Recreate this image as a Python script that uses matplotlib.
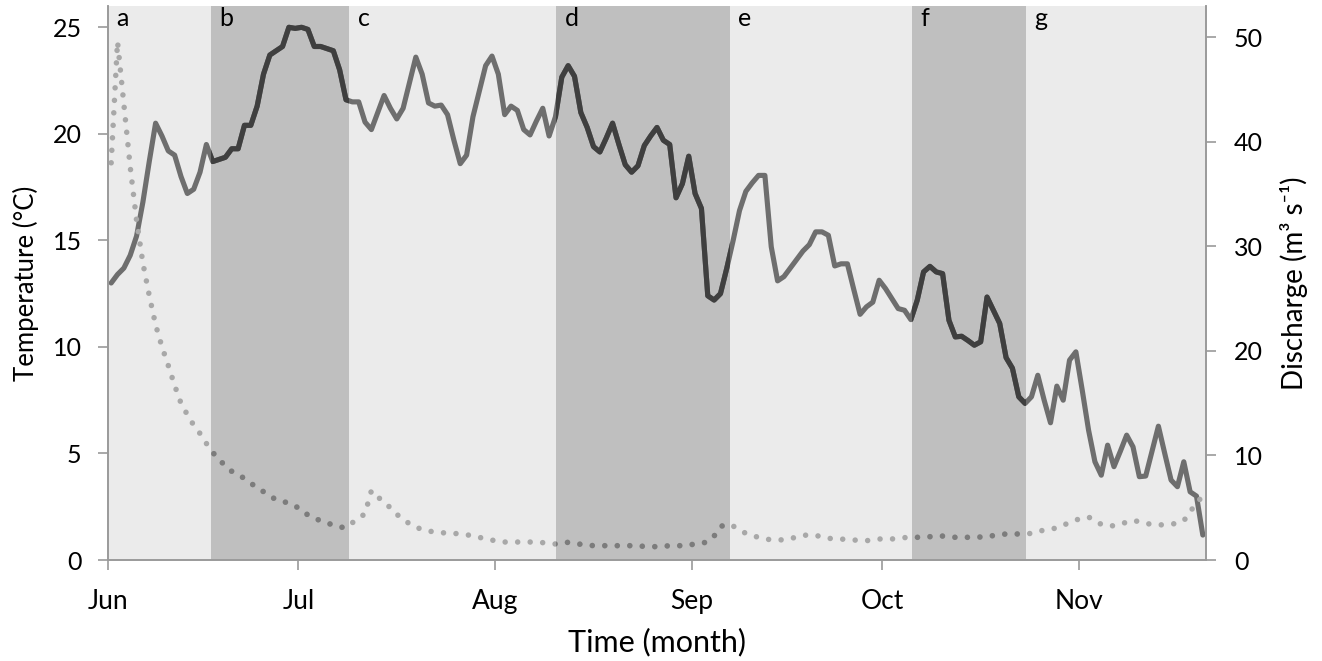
import matplotlib
matplotlib.use("Agg")
import matplotlib.pyplot as plt
from matplotlib.patches import Rectangle
from matplotlib import transforms
import numpy as np

plt.rcParams['font.family'] = ['Lato', 'DejaVu Sans']

# ---------------- data ----------------
# daily values starting 1 June (day index 0)
temperature = [
    13.0, 13.4, 13.7, 14.3, 15.2, 16.8, 18.7, 20.5, 19.9, 19.2,
    19.0, 18.0, 17.2, 17.4, 18.2, 19.5, 18.7, 18.8, 18.9, 19.3,
    19.3, 20.4, 20.4, 21.3, 22.8, 23.7, 23.9, 24.1, 25.0, 24.95,
    25.0, 24.9, 24.1, 24.1, 24.0, 23.9, 23.0, 21.6, 21.5, 21.5,
    20.55, 20.2, 21.0, 21.8, 21.2, 20.7, 21.2, 22.4, 23.6, 22.8,
    21.45, 21.3, 21.35, 20.9, 19.7, 18.6, 19.0, 20.8, 22.0, 23.2,
    23.65, 22.8, 20.9, 21.3, 21.1, 20.2, 19.95, 20.6, 21.2, 19.9,
    20.8, 22.66, 23.2, 22.7, 21.0, 20.3, 19.4, 19.15, 19.8, 20.5,
    19.5, 18.55, 18.2, 18.5, 19.45, 19.9, 20.3, 19.7, 19.5, 17.0,
    17.66, 18.95, 17.2, 16.5, 12.4, 12.2, 12.5, 13.7, 15.0, 16.4,
    17.3, 17.7, 18.05, 18.05, 14.7, 13.1, 13.3, 13.7, 14.1, 14.5,
    14.8, 15.4, 15.4, 15.24, 13.8, 13.9, 13.9, 12.7, 11.53, 11.88,
    12.1, 13.13, 12.74, 12.27, 11.8, 11.72, 11.28, 12.19, 13.52, 13.78,
    13.52, 13.44, 11.25, 10.47, 10.5, 10.3, 10.08, 10.24, 12.34, 11.72,
    11.1, 9.5, 9.0, 7.66, 7.35, 7.66, 8.67, 7.5, 6.44, 8.16,
    7.5, 9.38, 9.77, 7.97, 6.09, 4.61, 3.98, 5.39, 4.38, 5.1,
    5.86, 5.31, 3.91, 3.94, 5.1, 6.28, 5.0, 3.75, 3.44, 4.61,
    3.2, 3.0, 1.17,
]

discharge = [
    38.0, 49.6, 43.6, 37.6, 32.5, 28.4, 25.3, 22.5, 20.4, 18.6,
    16.7, 15.0, 13.9, 12.9, 12.1, 11.15, 10.3, 9.56, 9.05, 8.48,
    8.16, 7.8, 7.33, 6.95, 6.53, 6.12, 5.77, 5.6, 5.45, 5.16,
    4.78, 4.3, 4.0, 3.76, 3.54, 3.35, 3.15, 3.1, 3.57, 3.92,
    4.46, 6.63, 6.05, 5.5, 5.0, 4.37, 3.89, 3.47, 3.13, 2.93,
    2.77, 2.68, 2.61, 2.58, 2.55, 2.49, 2.42, 2.29, 2.17, 2.01,
    1.91, 1.75, 1.72, 1.72, 1.72, 1.72, 1.72, 1.69, 1.66, 1.59,
    1.53, 1.63, 1.69, 1.59, 1.5, 1.43, 1.37, 1.37, 1.37, 1.37,
    1.37, 1.37, 1.37, 1.33, 1.31, 1.29, 1.27, 1.31, 1.37, 1.37,
    1.37, 1.43, 1.53, 1.59, 1.75, 2.29, 3.19, 3.44, 3.25, 2.87,
    2.55, 2.33, 2.17, 2.01, 1.94, 1.91, 1.94, 2.04, 2.2, 2.36,
    2.39, 2.36, 2.2, 2.07, 2.04, 2.01, 1.94, 1.91, 1.88, 1.85,
    1.91, 2.01, 2.01, 2.01, 2.07, 2.14, 2.17, 2.17, 2.2, 2.23,
    2.26, 2.29, 2.23, 2.17, 2.17, 2.17, 2.17, 2.2, 2.26, 2.33,
    2.42, 2.49, 2.49, 2.49, 2.49, 2.55, 2.71, 2.87, 2.96, 3.06,
    3.31, 3.6, 3.82, 4.02, 4.11, 3.76, 3.41, 3.25, 3.28, 3.41,
    3.63, 3.79, 3.66, 3.5, 3.41, 3.35, 3.38, 3.44, 3.5, 3.76,
    4.56, 5.58, 6.0,
]

# periods a-g (start in days after 1 June)
period_labels = ['a', 'b', 'c', 'd', 'e', 'f', 'g']
period_starts = [0, 16.2, 38.0, 70.6, 98.0, 126.7, 144.7]
shaded_periods = ['b', 'd', 'f']

month_labels = ['Jun', 'Jul', 'Aug', 'Sep', 'Oct', 'Nov']
month_starts = [0, 30, 61, 92, 122, 153]
axis_end_day = 173

# ---------------- figure ----------------
W, H = 1322, 661
fig = plt.figure(figsize=(W / 100, H / 100), dpi=100)
ax = fig.add_axes([108 / W, 1 - 560 / H, (1206 - 108) / W, (560 - 6) / H])
ax2 = ax.twinx()

light_bg = '#EBEBEB'
dark_bg = '#BFBFBF'
temp_light = '#6E6E6E'
temp_dark = '#3F3F3F'
q_light = '#A8A8A8'
q_dark = '#7C7C7C'
spine_col = '#9A9A9A'

ax.set_facecolor(light_bg)
ax.set_xlim(0, axis_end_day)
ax.set_ylim(0, 26)
ax2.set_ylim(0, 53)

days = np.arange(len(temperature)) + 0.5

bounds = period_starts + [axis_end_day]
blend = transforms.blended_transform_factory(ax.transData, ax.transAxes)
blend2 = transforms.blended_transform_factory(ax2.transData, ax2.transAxes)

for i, lab in enumerate(period_labels):
    s, e = bounds[i], bounds[i + 1]
    if lab in shaded_periods:
        ax.axvspan(s, e, color=dark_bg, lw=0, zorder=0)
    ax.annotate(lab, xy=(s, 1), xycoords=blend, xytext=(6, -1),
                textcoords='offset points', ha='left', va='top',
                fontsize=18, color='black')

# temperature line
tlw = 3.7
ax.plot(days, temperature, color=temp_light, lw=tlw, solid_joinstyle='round',
        solid_capstyle='round', zorder=2)
for i, lab in enumerate(period_labels):
    if lab in shaded_periods:
        s, e = bounds[i], bounds[i + 1]
        ln, = ax.plot(days, temperature, color=temp_dark, lw=tlw,
                      solid_joinstyle='round', solid_capstyle='round', zorder=3)
        ln.set_clip_path(Rectangle((s, 0), e - s, 1, transform=blend))

# discharge dotted line
qlw = 4.0
dots = (0, (0.001, 2.25))
ax2.plot(days, discharge, color=q_light, lw=qlw, linestyle=dots,
         dash_capstyle='round', zorder=2)
for i, lab in enumerate(period_labels):
    if lab in shaded_periods:
        s, e = bounds[i], bounds[i + 1]
        ln, = ax2.plot(days, discharge, color=q_dark, lw=qlw, linestyle=dots,
                       dash_capstyle='round', zorder=3)
        ln.set_clip_path(Rectangle((s, 0), e - s, 1, transform=blend2))

# axes styling
for a in (ax, ax2):
    a.spines['top'].set_visible(False)
    for sp in ('left', 'right', 'bottom'):
        a.spines[sp].set_color(spine_col)
        a.spines[sp].set_linewidth(1.2)
ax2.patch.set_visible(False)

ax.set_xticks(month_starts)
ax.set_xticklabels(month_labels)
ax.set_yticks([0, 5, 10, 15, 20, 25])
ax2.set_yticks([0, 10, 20, 30, 40, 50])
ax.tick_params(axis='y', direction='out', length=7, width=1.2,
               color=spine_col, labelsize=18, pad=12)
ax.tick_params(axis='x', direction='out', length=7, width=1.2,
               color=spine_col, labelsize=19, pad=14)
ax2.tick_params(axis='y', direction='out', length=7, width=1.2,
                color=spine_col, labelsize=18, pad=13)

ax.set_xlabel('Time (month)', fontsize=22, labelpad=10)
ax.set_ylabel('Temperature (°C)', fontsize=18.5, labelpad=10)
ax2.set_ylabel('Discharge (m³ s⁻¹)', fontsize=20, labelpad=12)

fig.savefig('out.png', dpi=100)
